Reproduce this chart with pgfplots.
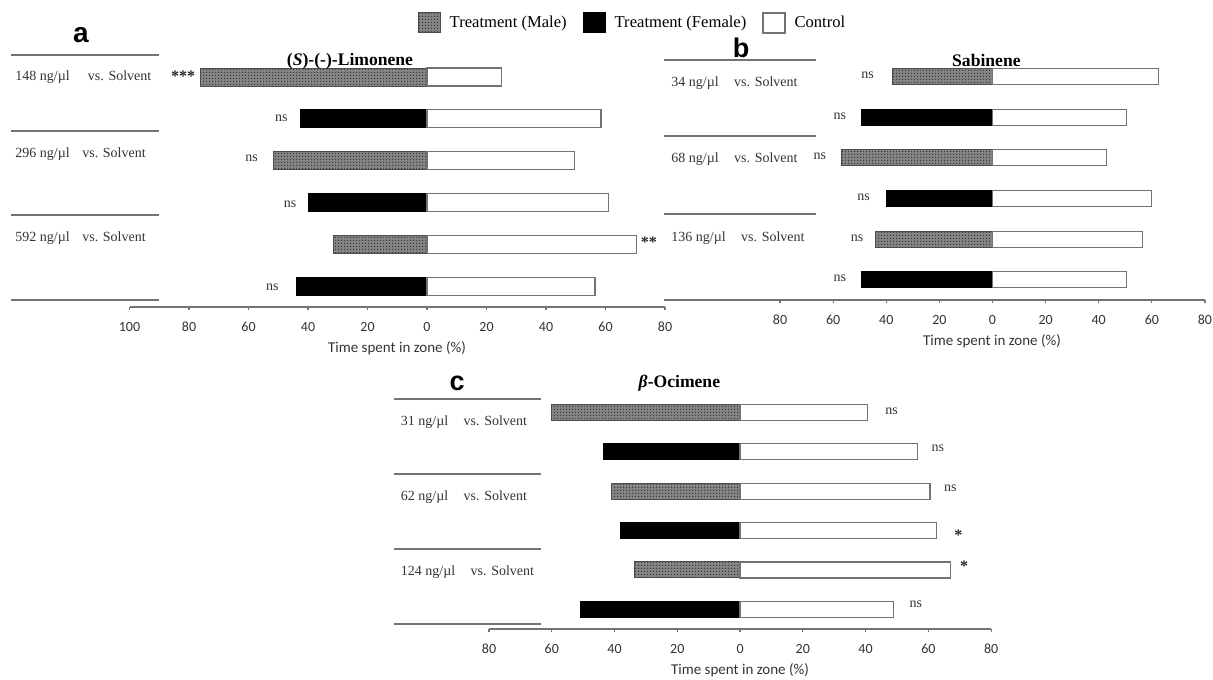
\documentclass[border=0pt]{standalone}
\usepackage{pgfplots}
\pgfplotsset{compat=1.18}
\usepackage{fontspec}
\setmainfont{Liberation Serif}
\newfontfamily\carlito{Carlito}
\newfontfamily\arialf{Liberation Sans}
\usetikzlibrary{patterns}

\pgfdeclarepatternformonly{finedots}{\pgfpointorigin}{\pgfpoint{1.3pt}{1.3pt}}{\pgfpoint{1.3pt}{1.3pt}}%
  {\pgfpathrectangle{\pgfpointorigin}{\pgfpoint{0.65pt}{0.65pt}}\pgfusepath{fill}}

\tikzset{
 male/.style={fill=black!48, draw=black!70, line width=0.5pt,
   postaction={pattern=finedots, pattern color=black!78}},
 female/.style={fill=black, draw=black, line width=0.5pt},
 ctrl/.style={fill=white, draw=black!55, line width=0.6pt},
 ann/.style={font=\fontsize{7}{8}\selectfont, text=black!80},
 ast/.style={font=\bfseries\fontsize{8}{8}\selectfont, text=black!85, yshift=-1pt},
}
\pgfplotsset{
 panel/.style={
   axis x line*=bottom, axis y line=none, ytick=\empty,
   xbar, bar shift=0pt, ymin=0.5, ymax=6.5,
   tick align=outside, major tick length=1.6pt,
   axis line style={black!55, line width=0.6pt},
   every tick/.style={black!55, line width=0.6pt},
   xticklabel style={font=\carlito\fontsize{7}{8}\selectfont, text=black!80, yshift=-2.5pt},
   /pgf/number format/assume math mode=true,
   clip=false, anchor=south west,
 },
}

\begin{document}
\begin{tikzpicture}
\useasboundingbox (0pt,0pt) rectangle (606.5pt,-339.5pt);

% ---------------- panel a ----------------
\begin{axis}[panel, at={(64.75pt,-153.5pt)},
  x=1.4875pt, y=20.9pt, xmin=-100, xmax=80, bar width=9pt,
  xtick={-100,-80,-60,-40,-20,0,20,40,60,80},
  xticklabels={100,80,60,40,20,0,20,40,60,80},
  legend columns=3,
  legend style={at={(0.9412,1.1324)}, anchor=center, draw=none, fill=none,
    font=\fontsize{8.3}{10}\selectfont,
    /tikz/every odd column/.style={column sep=2.5pt},
    /tikz/every even column/.style={column sep=6pt}},
  legend image code/.code={\draw[#1] (0pt,-5pt) rectangle (11pt,5pt);},
]
\addplot[male] coordinates {(-76,6) (-51.5,4) (-31.5,2)};
\addplot[female] coordinates {(-42.5,5) (-40,3) (-44,1)};
\addplot[ctrl] coordinates {(25,6) (58.5,5) (49.5,4) (61,3) (70.5,2) (56.5,1)};
\legend{Treatment (Male), Treatment (Female), Control}
\node[ast] at (axis cs:-82,6.07) {***};
\node[ann] at (axis cs:-49,5.02) {ns};
\node[ann] at (axis cs:-59,4.07) {ns};
\node[ann] at (axis cs:-46,2.95) {ns};
\node[ast] at (axis cs:74.6,2.1) {**};
\node[ann] at (axis cs:-52,0.97) {ns};
\end{axis}

% ---------------- panel b ----------------
\begin{axis}[panel, at={(390pt,-150pt)},
  x=1.328pt, y=20.3pt, xmin=-80, xmax=80, bar width=8pt,
  xtick={-80,-60,-40,-20,0,20,40,60,80},
  xticklabels={80,60,40,20,0,20,40,60,80},
]
\addplot[male] coordinates {(-37.5,6) (-57,4) (-44,2)};
\addplot[female] coordinates {(-49.5,5) (-40,3) (-49.5,1)};
\addplot[ctrl] coordinates {(62.5,6) (50.5,5) (43,4) (60,3) (56.5,2) (50.5,1)};
\node[ann] at (axis cs:-47,6.03) {ns};
\node[ann] at (axis cs:-57.5,5.03) {ns};
\node[ann] at (axis cs:-65,4.03) {ns};
\node[ann] at (axis cs:-48.5,3.03) {ns};
\node[ann] at (axis cs:-51,2.03) {ns};
\node[ann] at (axis cs:-57.5,1.03) {ns};
\end{axis}

% ---------------- panel c ----------------
\begin{axis}[panel, at={(244.5pt,-314.5pt)},
  x=1.569pt, y=19.7pt, xmin=-80, xmax=80, bar width=8pt,
  xtick={-80,-60,-40,-20,0,20,40,60,80},
  xticklabels={80,60,40,20,0,20,40,60,80},
]
\addplot[male] coordinates {(-60,6) (-41,4) (-33.5,2)};
\addplot[female] coordinates {(-43.5,5) (-38,3) (-51,1)};
\addplot[ctrl] coordinates {(40.5,6) (56.5,5) (60.5,4) (62.5,3) (67,2) (49,1)};
\node[ann] at (axis cs:48.3,6.03) {ns};
\node[ann] at (axis cs:63,5.08) {ns};
\node[ann] at (axis cs:67,4.08) {ns};
\node[ast] at (axis cs:69.6,2.93) {*};
\node[ast] at (axis cs:71.4,2.15) {*};
\node[ann] at (axis cs:56,1.13) {ns};
\end{axis}

% ---------------- panel decorations ----------------
\begin{scope}[every node/.style={inner sep=0pt}]
\node[font=\arialf\bfseries\fontsize{14}{14}\selectfont] at (40.5pt,-17.5pt) {a};
\node[font=\arialf\bfseries\fontsize{13.5}{14}\selectfont] at (370.5pt,-23.75pt) {b};
\node[font=\arialf\bfseries\fontsize{13.5}{14}\selectfont] at (228.5pt,-191.75pt) {c};
\node[font=\bfseries\fontsize{8.8}{10}\selectfont] at (175pt,-30.5pt) {(\textit{S})-(-)-Limonene};
\node[font=\bfseries\fontsize{8.8}{10}\selectfont] at (493.2pt,-30.2pt) {Sabinene};
\node[font=\bfseries\fontsize{8.8}{10}\selectfont] at (339.7pt,-191.7pt) {\textit{β}-Ocimene};
\node[font=\carlito\fontsize{7.5}{9}\selectfont, text=black!80] at (198.5pt,-174pt) {Time spent in zone (\%)};
\node[font=\carlito\fontsize{7.5}{9}\selectfont, text=black!80] at (496pt,-170.5pt) {Time spent in zone (\%)};
\node[font=\carlito\fontsize{7.5}{9}\selectfont, text=black!80] at (370pt,-335pt) {Time spent in zone (\%)};
\foreach \yy in {55,131,215,300} \draw[black!55, line width=0.9pt] (5.5pt,-\yy*0.5pt) -- (79.5pt,-\yy*0.5pt);
\foreach \yy in {60,136,214,300} \draw[black!55, line width=0.9pt] (332pt,-\yy*0.5pt) -- (408pt,-\yy*0.5pt);
\foreach \yy in {399,474,549,624} \draw[black!55, line width=0.9pt] (197pt,-\yy*0.5pt) -- (270.5pt,-\yy*0.5pt);
\begin{scope}[every node/.style={anchor=west, inner sep=0pt, font=\fontsize{7}{8}\selectfont, text=black!80}]
\node at (7.5pt,-38.5pt) {148 ng/µl\hspace{1.3em}vs. Solvent};
\node at (7.5pt,-77pt) {296 ng/µl\hspace{0.9em}vs. Solvent};
\node at (7.5pt,-119pt) {592 ng/µl\hspace{0.9em}vs. Solvent};
\node at (335.5pt,-41.5pt) {34 ng/µl\hspace{1.1em}vs. Solvent};
\node at (335.5pt,-79.5pt) {68 ng/µl\hspace{1.1em}vs. Solvent};
\node at (335.5pt,-119pt) {136 ng/µl\hspace{1.1em}vs. Solvent};
\node at (200.25pt,-211pt) {31 ng/µl\hspace{1.1em}vs. Solvent};
\node at (200.25pt,-248.5pt) {62 ng/µl\hspace{1.1em}vs. Solvent};
\node at (200.25pt,-286pt) {124 ng/µl\hspace{1.1em}vs. Solvent};
\end{scope}
\end{scope}
\end{tikzpicture}
\end{document}
